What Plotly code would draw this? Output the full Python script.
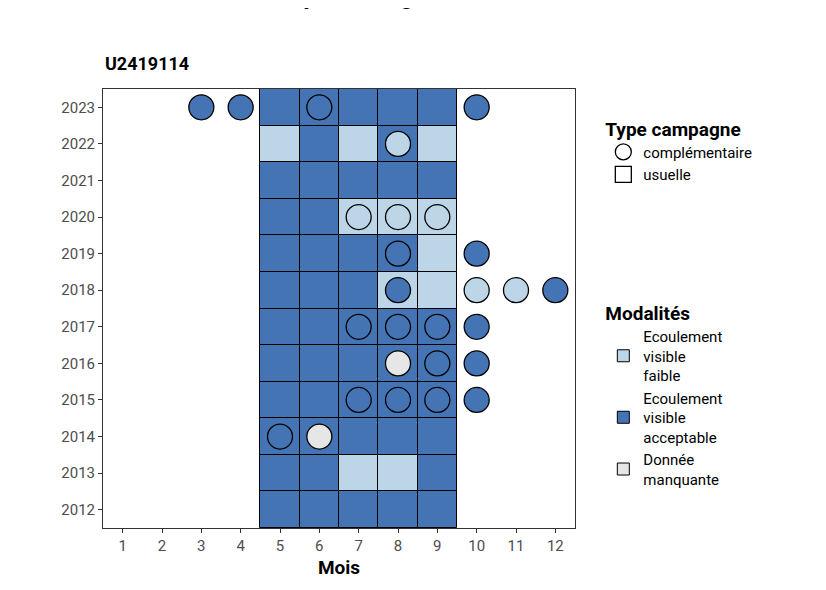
import plotly.graph_objects as go

years = list(range(2012, 2024))
months = [5, 6, 7, 8, 9]
# tile modality per year for months 5..9 : A=acceptable, F=faible, M=manquante
tiles = {
    2012: "AAAAA", 2013: "AAFFA", 2014: "AAAAA", 2015: "AAAAA",
    2016: "AAAAA", 2017: "AAAAA", 2018: "AAAFF", 2019: "AAAAF",
    2020: "AAFFF", 2021: "AAAAA", 2022: "FAFAF", 2023: "AAAAA",
}
# complementary campaigns: (year, month, modality)
comp = [
    (2023, 3, "A"), (2023, 4, "A"), (2023, 6, "A"), (2023, 10, "A"),
    (2022, 8, "F"),
    (2020, 7, "F"), (2020, 8, "F"), (2020, 9, "F"),
    (2019, 8, "A"), (2019, 10, "A"),
    (2018, 8, "A"), (2018, 10, "F"), (2018, 11, "F"), (2018, 12, "A"),
    (2017, 7, "A"), (2017, 8, "A"), (2017, 9, "A"), (2017, 10, "A"),
    (2016, 8, "M"), (2016, 9, "A"), (2016, 10, "A"),
    (2015, 7, "A"), (2015, 8, "A"), (2015, 9, "A"), (2015, 10, "A"),
    (2014, 5, "A"), (2014, 6, "M"),
]
labels = {"F": "Ecoulement<br>visible<br>faible", "A": "Ecoulement<br>visible<br>acceptable", "M": "Donnée<br>manquante"}
colors = {"F": "#bcd6e7", "A": "#4574b4", "M": "#e6e6e6"}

fig = go.Figure()
for key in ["F", "A", "M"]:
    xs, ys = [], []
    for y in years:
        for m, c in zip(months, tiles[y]):
            if c == key:
                xs.append(m)
                ys.append(y)
    fig.add_trace(go.Bar(
        x=xs if xs else [None], y=[1] * max(len(xs), 1), base=[y - 0.5 for y in ys] if ys else [0],
        width=1, marker=dict(color=colors[key], line=dict(color="black", width=1)),
        name=labels[key], legend="legend2", showlegend=True, hoverinfo="skip"))

for key in ["F", "A", "M"]:
    pts = [p for p in comp if p[2] == key]
    fig.add_trace(go.Scatter(
        x=[p[1] for p in pts], y=[p[0] for p in pts], mode="markers",
        marker=dict(size=25, color=colors[key], line=dict(color="black", width=1.3)),
        showlegend=False))

fig.add_trace(go.Scatter(x=[None], y=[None], mode="markers", name="complémentaire",
                         marker=dict(size=22, color="white", symbol="circle", line=dict(color="black", width=1.3))))
fig.add_trace(go.Scatter(x=[None], y=[None], mode="markers", name="usuelle",
                         marker=dict(size=36, color="white", symbol="square", line=dict(color="black", width=1.3))))

fig.update_layout(
    width=826, height=590, barmode="overlay", bargap=0,
    margin=dict(l=95, r=259, t=81, b=70),
    plot_bgcolor="white", paper_bgcolor="white",
    font=dict(family="Roboto", color="black"),
    xaxis=dict(range=[0.5, 12.5], tickvals=list(range(1, 13)), showgrid=False, zeroline=False,
               mirror=True, showline=True, linecolor="#333333", linewidth=1, ticks="outside", ticklen=4,
               tickcolor="#333333", tickfont=dict(size=15, color="#4d4d4d"),
               title=dict(text="<b>Mois</b>", font=dict(size=19), standoff=6)),
    yaxis=dict(range=[2011.5, 2023.5], tickvals=years, showgrid=False, zeroline=False,
               mirror=True, showline=True, linecolor="#333333", linewidth=1, ticks="outside", ticklen=4,
               tickcolor="#333333", tickfont=dict(size=15, color="#4d4d4d")),
    legend=dict(x=1.06, y=0.95, xanchor="left", yanchor="top", itemsizing="trace",
                title=dict(text="<b>Type campagne</b>", font=dict(size=19)),
                font=dict(size=15), tracegroupgap=8),
    legend2=dict(x=1.06, y=0.53, xanchor="left", yanchor="top",
                 title=dict(text="<b>Modalités</b>", font=dict(size=19)),
                 font=dict(size=15)),
    annotations=[
        dict(text="<b>La Baume à Sancey-Le-Long</b>", x=0, y=1.175, xref="paper", yref="paper",
             xanchor="left", yanchor="bottom", showarrow=False, font=dict(size=24)),
        dict(text="<b>U2419114</b>", x=0, y=1.03, xref="paper", yref="paper",
             xanchor="left", yanchor="bottom", showarrow=False, font=dict(size=18)),
    ],
)
fig.write_html("out.html")
